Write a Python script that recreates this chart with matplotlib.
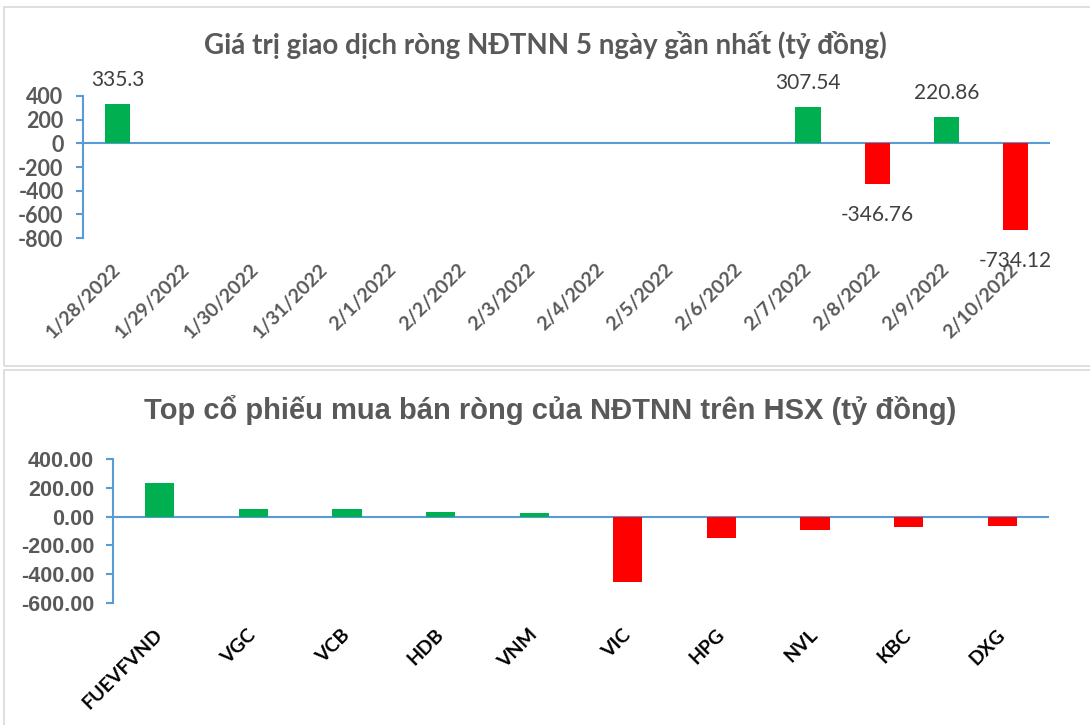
import numpy as np
import matplotlib.pyplot as plt
from matplotlib.patches import Rectangle

# data
dates = ["1/28/2022", "1/29/2022", "1/30/2022", "1/31/2022", "2/1/2022", "2/2/2022",
         "2/3/2022", "2/4/2022", "2/5/2022", "2/6/2022", "2/7/2022", "2/8/2022",
         "2/9/2022", "2/10/2022"]
net_values = [335.3, None, None, None, None, None, None, None, None, None,
              307.54, -346.76, 220.86, -734.12]
net_labels = ["335.3", "", "", "", "", "", "", "", "", "", "307.54", "-346.76", "220.86", "-734.12"]
top_yticks = [400, 200, 0, -200, -400, -600, -800]

stocks = ["FUEVFVND", "VGC", "VCB", "HDB", "VNM", "VIC", "HPG", "NVL", "KBC", "DXG"]
stock_values = [233, 53, 53, 32, 25, -457, -146, -92, -69, -62]
bottom_yticks = [400, 200, 0, -200, -400, -600]

GREEN = "#00B050"
RED = "#FF0000"
AXIS = "#5B9BD5"
GRAY = "#595959"

fig = plt.figure(figsize=(10.9, 7.25), dpi=100)
fig.patch.set_facecolor("white")

W, H = 1090, 725


def fbox(x0, y0, x1, y1):
    # pixel box (top-left origin) -> figure fraction [l, b, w, h]
    return [x0 / W, 1 - y1 / H, (x1 - x0) / W, (y1 - y0) / H]


# panel borders
for (x0, y0, x1, y1) in [(4, 7, 1095, 366), (4, 370, 1095, 735)]:
    fig.patches.append(Rectangle((x0 / W, 1 - y1 / H), (x1 - x0) / W, (y1 - y0) / H,
                                 transform=fig.transFigure, fill=False,
                                 edgecolor="#D9D9D9", linewidth=1.2))


def style_axes(ax, ylo, yhi, yticks, fmt, tickfont, tickfs, pad):
    ax.set_ylim(ylo, yhi)
    ax.set_yticks(yticks)
    ax.set_yticklabels([fmt.format(v) for v in yticks], fontsize=tickfs,
                       fontweight="bold", color=GRAY, family=tickfont)
    for s in ["top", "right", "bottom"]:
        ax.spines[s].set_visible(False)
    ax.spines["left"].set_color(AXIS)
    ax.spines["left"].set_linewidth(1.5)
    ax.tick_params(axis="y", colors=AXIS, length=5, width=1.5, labelcolor=GRAY, pad=pad)
    ax.tick_params(axis="x", length=0)
    ax.axhline(0, color=AXIS, linewidth=1.5, zorder=1)
    ax.set_facecolor("none")


# top chart
ax1 = fig.add_axes(fbox(83, 96, 1050, 238))
x1 = np.arange(len(dates))
v1 = np.array([np.nan if v is None else v for v in net_values], dtype=float)
c1 = [GREEN if (v is not None and v > 0) else RED for v in net_values]
ax1.bar(x1, v1, width=0.37, color=c1, zorder=2)
ax1.set_xlim(-0.5, len(dates) - 0.5)
style_axes(ax1, -800, 400, top_yticks, "{:d}", "Lato", 15.5, 9)
ax1.set_xticks(x1)
ax1.set_xticklabels(dates, rotation=45, ha="right", va="center", rotation_mode="anchor",
                    fontsize=14, fontweight="bold", color=GRAY, family="Lato")
ax1.tick_params(axis="x", pad=20.5)
for xi, v, lab in zip(x1, net_values, net_labels):
    if v is None:
        continue
    if v > 0:
        ax1.annotate(lab, (xi, v), xytext=(0, 10), textcoords="offset points",
                     ha="center", va="bottom", fontsize=15, color="#404040", family="Lato")
    else:
        ax1.annotate(lab, (xi, v), xytext=(0, -15), textcoords="offset points",
                     ha="center", va="top", fontsize=15, color="#404040", family="Lato")

fig.text(545 / W, 1 - 45 / H, "Giá trị giao dịch ròng NĐTNN 5 ngày gần nhất (tỷ đồng)",
         ha="center", va="center", fontsize=20, fontweight="bold", color=GRAY, family="Lato")

# bottom chart
ax2 = fig.add_axes(fbox(113, 459, 1049, 603))
x2 = np.arange(len(stocks))
c2 = [GREEN if v > 0 else RED for v in stock_values]
ax2.bar(x2, stock_values, width=0.31, color=c2, zorder=2)
ax2.set_xlim(-0.5, len(stocks) - 0.5)
style_axes(ax2, -600, 400, bottom_yticks, "{:.2f}", "Liberation Sans", 15.5, 8.5)
ax2.set_xticks(x2)
ax2.set_xticklabels(stocks, rotation=45, ha="right", va="center", rotation_mode="anchor",
                    fontsize=14, fontweight="bold", color="black", family="Lato")
ax2.tick_params(axis="x", pad=21)

fig.text(550 / W, 1 - 410 / H, "Top cổ phiếu mua bán ròng của NĐTNN trên HSX (tỷ đồng)",
         ha="center", va="center", fontsize=21, fontweight="bold", color=GRAY,
         family="Liberation Sans")

fig.savefig("out.png", dpi=100)
